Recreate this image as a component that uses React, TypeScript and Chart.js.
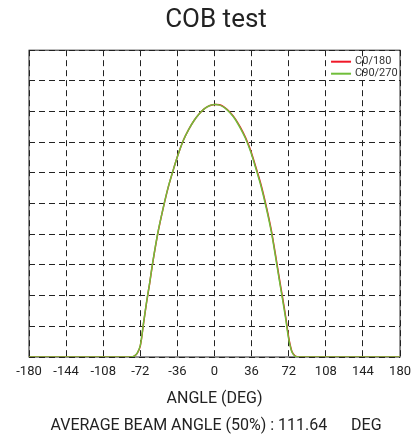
import React, { useEffect, useRef } from "react";
import { Chart, registerables } from "chart.js";

Chart.register(...registerables);

const angles = [-180, -90, -84, -81, -78, -75, -72, -69, -66, -63, -60, -55, -50, -45, -40, -35, -30, -25, -20, -15, -10, -5, 0, 5, 10, 15, 20, 25, 30, 35, 40, 45, 50, 55, 60, 63, 66, 69, 72, 75, 78, 81, 84, 90, 180];

const c0_180 = [0, 0, 0, 0, 0.3, 1.2, 3.6, 10.6, 17.6, 23.8, 30.6, 40.3, 48.2, 55.2, 61.0, 66.3, 70.8, 74.2, 77.0, 79.2, 80.9, 81.9, 82.3, 82.2, 81.3, 79.8, 77.7, 74.9, 71.6, 67.4, 62.0, 56.3, 49.4, 41.5, 31.6, 25.4, 19.4, 13.2, 6.3, 1.9, 0.4, 0, 0, 0, 0];

const c90_270 = [0, 0, 0, 0, 0.3, 1.3, 3.8, 10.8, 17.8, 24.0, 30.8, 40.5, 48.3, 55.3, 61.0, 66.3, 70.8, 74.2, 77.0, 79.2, 80.9, 81.9, 82.3, 82.1, 81.2, 79.6, 77.5, 74.6, 71.3, 67.0, 61.6, 55.8, 48.9, 41.0, 31.0, 24.8, 18.8, 12.6, 5.8, 1.7, 0.3, 0, 0, 0, 0];

const seriesLabels = ["C0/180", "C90/270"];
const seriesColors = ["rgb(240,24,40)", "rgb(112,190,58)"];

const titleText = "COB test";
const xTitle = "ANGLE (DEG)";
const footerText = "AVERAGE BEAM ANGLE (50%) : 111.64      DEG";

const FONT = "Roboto, 'Noto Sans', sans-serif";

const framePlugin = {
  id: "frame",
  beforeDatasetsDraw(chart: any) {
    const { ctx, chartArea } = chart;
    ctx.save();
    ctx.strokeStyle = "#222";
    ctx.lineWidth = 1;
    ctx.setLineDash([]);
    ctx.strokeRect(chartArea.left, chartArea.top, chartArea.right - chartArea.left, chartArea.bottom - chartArea.top);
    ctx.restore();
  },
};

const insideLegend = {
  id: "insideLegend",
  afterDatasetsDraw(chart: any) {
    const { ctx, chartArea } = chart;
    ctx.save();
    ctx.font = `11px ${FONT}`;
    ctx.textBaseline = "middle";
    ctx.textAlign = "left";
    chart.data.datasets.forEach((ds: any, i: number) => {
      const y = chartArea.top + 11.5 + i * 12;
      const x0 = chartArea.right - 69;
      ctx.strokeStyle = ds.borderColor;
      ctx.lineWidth = 2;
      ctx.beginPath();
      ctx.moveTo(x0, y);
      ctx.lineTo(x0 + 20, y);
      ctx.stroke();
      ctx.fillStyle = "#333";
      ctx.fillText(ds.label, x0 + 24, y);
    });
    ctx.restore();
  },
};

export default function App() {
  const ref = useRef<HTMLCanvasElement | null>(null);
  useEffect(() => {
    document.body.style.margin = "0";
    if (!ref.current) return;
    const chart = new Chart(ref.current, {
      type: "line",
      data: {
        datasets: [
          {
            label: seriesLabels[0],
            data: angles.map((a, i) => ({ x: a, y: c0_180[i] })),
            borderColor: seriesColors[0],
            backgroundColor: seriesColors[0],
            borderWidth: 1.5,
            pointRadius: 0,
            tension: 0.3,
            order: 1,
          },
          {
            label: seriesLabels[1],
            data: angles.map((a, i) => ({ x: a, y: c90_270[i] })),
            borderColor: seriesColors[1],
            backgroundColor: seriesColors[1],
            borderWidth: 1.5,
            pointRadius: 0,
            tension: 0.3,
            order: 0,
          },
        ],
      },
      options: {
        animation: false,
        responsive: false,
        layout: { padding: { left: 29, right: 15, top: 0, bottom: 0 } },
        plugins: {
          legend: { display: false },
          tooltip: { enabled: false },
          title: {
            display: true,
            text: titleText,
            color: "#222",
            font: { family: FONT, size: 26, weight: "normal" },
            padding: { top: 5, bottom: 14 },
          },
          subtitle: {
            display: true,
            position: "bottom",
            text: footerText,
            color: "#222",
            font: { family: FONT, size: 16, weight: "normal" },
            padding: { top: 8, bottom: 0 },
          },
        },
        scales: {
          x: {
            type: "linear",
            min: -180,
            max: 180,
            ticks: { stepSize: 36, color: "#222", padding: 7, font: { family: FONT, size: 13 } },
            grid: { color: "#222", lineWidth: 1, drawTicks: false },
            border: { display: false, dash: [6, 4] },
            title: {
              display: true,
              text: xTitle,
              color: "#222",
              font: { family: FONT, size: 16 },
              padding: { top: 3, bottom: 0 },
            },
          },
          y: {
            min: 0,
            max: 100,
            ticks: { display: false, stepSize: 10 },
            grid: { color: "#222", lineWidth: 1, drawTicks: false },
            border: { display: false, dash: [6, 4] },
          },
        },
      },
      plugins: [framePlugin, insideLegend],
    });
    return () => chart.destroy();
  }, []);
  return <canvas ref={ref} width={418} height={436} style={{ display: "block" }} />;
}
